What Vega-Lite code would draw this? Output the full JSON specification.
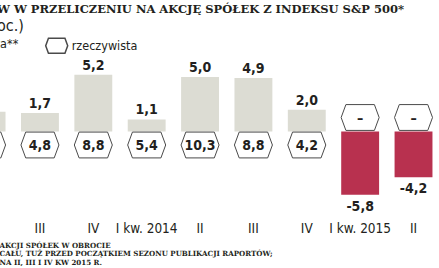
{
  "$schema": "https://vega.github.io/schema/vega-lite/v6.json",
  "width": 439,
  "height": 131,
  "autosize": {"type": "none"},
  "padding": {"left": 0, "right": 0, "top": 66, "bottom": 71},
  "background": "white",
  "title": {
    "text": "W W PRZELICZENIU NA AKCJĘ SPÓŁEK Z INDEKSU S&P 500*",
    "subtitle": "oc.)",
    "anchor": "start",
    "frame": "group",
    "dx": -3,
    "offset": -2,
    "font": "DejaVu Serif",
    "fontSize": 11.5,
    "fontWeight": "bold",
    "color": "#231f20",
    "subtitleFont": "DejaVu Sans Condensed",
    "subtitleFontSize": 16,
    "subtitleColor": "#231f20",
    "subtitlePadding": 3
  },
  "data": {
    "values": [
      {"kw": "II 2013", "prognoza": 1.8, "rz": ""},
      {"kw": "III 2013", "prognoza": 1.7, "rz": "4,8"},
      {"kw": "IV 2013", "prognoza": 5.2, "rz": "8,8"},
      {"kw": "I 2014", "prognoza": 1.1, "rz": "5,4"},
      {"kw": "II 2014", "prognoza": 5.0, "rz": "10,3"},
      {"kw": "III 2014", "prognoza": 4.9, "rz": "8,8"},
      {"kw": "IV 2014", "prognoza": 2.0, "rz": "4,2"},
      {"kw": "I 2015", "prognoza": -5.8, "rz": "–"},
      {"kw": "II 2015", "prognoza": -4.2, "rz": "–"}
    ]
  },
  "encoding": {
    "x": {
      "field": "kw",
      "type": "nominal",
      "sort": null,
      "scale": {"range": [-40.1, 440.2], "paddingInner": 0.29, "paddingOuter": 0.145},
      "axis": {
        "labelExpr": "indexof(datum.value, 'I 20') == 0 ? 'I kw. ' + substring(datum.value, 2) : split(datum.value, ' ')[0]",
        "labelFont": "DejaVu Sans Condensed",
        "labelFontSize": 13.5,
        "labelColor": "#231f20",
        "labelPadding": 24,
        "labelAngle": 0,
        "labelOverlap": false,
        "labelBound": false,
        "ticks": false,
        "tickSize": 0,
        "domain": false,
        "grid": false,
        "title": ["AKCJI SPÓŁEK W OBROCIE", "CAŁU, TUŻ PRZED POCZĄTKIEM SEZONU PUBLIKACJI RAPORTÓW;", "NA II, III I IV KW 2015 R."],
        "titleAnchor": "start",
        "titleAlign": "left",
        "titleX": -1,
        "titleY": 50.5,
        "titleBaseline": "alphabetic",
        "titleFont": "DejaVu Serif",
        "titleFontSize": 7.1,
        "titleFontWeight": "bold",
        "titleColor": "#231f20",
        "titleLineHeight": 8.3
      }
    }
  },
  "layer": [
    {
      "mark": {"type": "bar"},
      "encoding": {
        "y": {
          "field": "prognoza",
          "type": "quantitative",
          "scale": {"domain": [-6, 6], "nice": false, "zero": true},
          "axis": {
            "values": [-6, -3, 0, 3, 6],
            "grid": true,
            "gridColor": "#9c9c9c",
            "gridWidth": 1.5,
            "labels": false,
            "ticks": false,
            "domain": false,
            "title": null
          }
        },
        "color": {"condition": {"test": "datum.prognoza < 0", "value": "#b8314f"}, "value": "#dcdcd3"}
      }
    },
    {
      "transform": [{"filter": "datum.prognoza >= 0"}],
      "mark": {"type": "text", "baseline": "alphabetic", "dy": -5, "font": "DejaVu Sans Condensed", "fontSize": 14, "fontWeight": "bold", "color": "#231f20"},
      "encoding": {
        "y": {"field": "prognoza", "type": "quantitative", "axis": null},
        "text": {"field": "prognoza", "type": "quantitative", "format": ".1f"}
      }
    },
    {
      "transform": [{"filter": "datum.prognoza < 0"}],
      "mark": {"type": "text", "baseline": "alphabetic", "dy": 16, "font": "DejaVu Sans Condensed", "fontSize": 14, "fontWeight": "bold", "color": "#231f20"},
      "encoding": {
        "y": {"field": "prognoza", "type": "quantitative", "axis": null},
        "text": {"field": "prognoza", "type": "quantitative", "format": ".1f"}
      }
    },
    {
      "transform": [{"filter": "datum.prognoza >= 0"}],
      "mark": {"type": "point", "filled": true, "fill": "white", "stroke": "#4a4a4a", "strokeWidth": 1, "size": 1444, "yOffset": 13.5, "opacity": 1},
      "encoding": {
        "y": {"datum": 0, "type": "quantitative", "axis": null},
        "shape": {
          "datum": "rzeczywista",
          "scale": {"domain": ["prognoza**", "rzeczywista"], "range": ["square", "M-1,0L-0.75,-0.68L0.75,-0.68L1,0L0.75,0.68L-0.75,0.68Z"]},
          "legend": {
            "orient": "none",
            "legendX": -72.3,
            "legendY": -34,
            "direction": "horizontal",
            "title": null,
            "padding": 0,
            "symbolSize": 484,
            "labelFont": "DejaVu Sans Condensed",
            "labelFontSize": 12.5,
            "labelColor": "#231f20",
            "labelOffset": 3,
            "columnPadding": 24,
            "encode": {
              "symbols": {
                "update": {
                  "fill": {"value": "white"},
                  "stroke": {"value": "#4a4a4a"},
                  "strokeWidth": {"value": 1},
                  "opacity": {"value": 1}
                }
              }
            }
          }
        }
      }
    },
    {
      "transform": [{"filter": "datum.prognoza < 0"}],
      "mark": {"type": "point", "filled": true, "fill": "white", "stroke": "#4a4a4a", "strokeWidth": 1, "size": 1444, "yOffset": -14, "opacity": 1},
      "encoding": {
        "y": {"datum": 0, "type": "quantitative", "axis": null},
        "shape": {"datum": "rzeczywista"}
      }
    },
    {
      "transform": [{"filter": "datum.prognoza >= 0"}],
      "mark": {"type": "text", "baseline": "alphabetic", "dy": 18.5, "font": "DejaVu Sans Condensed", "fontSize": 14, "fontWeight": "bold", "color": "#231f20"},
      "encoding": {
        "y": {"datum": 0, "type": "quantitative", "axis": null},
        "text": {"field": "rz", "type": "nominal"}
      }
    },
    {
      "transform": [{"filter": "datum.prognoza < 0"}],
      "mark": {"type": "text", "baseline": "alphabetic", "dy": -9, "font": "DejaVu Sans Condensed", "fontSize": 14, "fontWeight": "bold", "color": "#231f20"},
      "encoding": {
        "y": {"datum": 0, "type": "quantitative", "axis": null},
        "text": {"field": "rz", "type": "nominal"}
      }
    }
  ],
  "config": {
    "view": {"stroke": null},
    "locale": {"number": {"decimal": ",", "thousands": " ", "grouping": [3], "currency": ["", " zł"], "minus": "-"}}
  }
}
